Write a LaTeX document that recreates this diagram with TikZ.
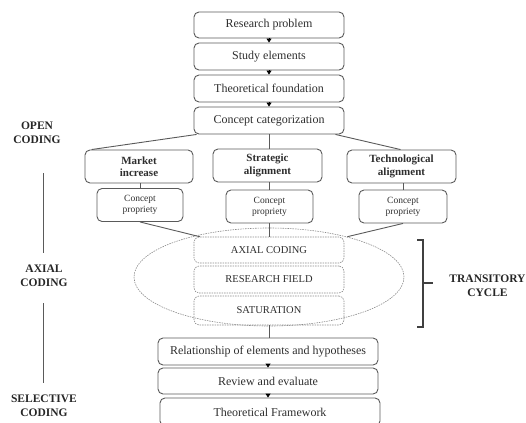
\documentclass[tikz,border=0pt]{standalone}
\usepackage{fontspec}
\setmainfont{Liberation Serif}
\usetikzlibrary{arrows.meta,calc,shapes.geometric}
\definecolor{bord}{HTML}{5A5A5A}
\definecolor{txt}{HTML}{2E2E2E}
\tikzset{
  mainbox/.style={draw=bord, line width=0.9pt, rounded corners=5pt, minimum width=150pt, minimum height=26pt, inner sep=1pt, text=txt, font=\fontsize{12}{13}\selectfont},
  catbox/.style={draw=bord, line width=0.9pt, rounded corners=5pt, minimum width=108pt, minimum height=33pt, inner sep=1pt, align=center, text=txt, font=\fontsize{11}{12.5}\selectfont\bfseries},
  propbox/.style={draw=bord, line width=0.9pt, rounded corners=5pt, minimum width=86pt, minimum height=33pt, inner sep=1pt, align=center, text=txt, font=\fontsize{9.5}{11}\selectfont},
  cycbox/.style={draw=bord!70, dashed, dash pattern=on 1.5pt off 1pt, line width=0.6pt, rounded corners=5pt, minimum width=150pt, minimum height=27pt, inner sep=1pt, text=txt, font=\fontsize{10.5}{12}\selectfont},
  phase/.style={align=center, text=black!85, font=\fontsize{11.5}{13.5}\selectfont\bfseries},
  conn/.style={draw=bord, line width=0.9pt},
  arr/.style={draw=black, line width=0.9pt, -{Triangle[length=4pt,width=5pt]}, shorten >=0pt},
}
\begin{document}
\begin{tikzpicture}[x=1pt,y=-1pt]
\useasboundingbox (0,0) rectangle (526,422);
% top chain
\node[mainbox] (rp) at (269,25) {Research problem};
\node[mainbox, minimum height=27pt] (se) at (269,56.5) {Study elements};
\node[mainbox, minimum height=27pt] (tf) at (269,88.5) {Theoretical foundation};
\node[mainbox, minimum height=27pt] (cc) at (269,120.5) {Concept categorization};
\draw[arr] (rp.south) -- (se.north);
\draw[arr] (se.south) -- (tf.north);
\draw[arr] (tf.south) -- (cc.north);
% categories
\node[catbox] (mi) at (139,166.5) {Market\\increase};
\node[catbox, minimum width=109pt] (sa) at (267.5,165.5) {Strategic\\alignment};
\node[catbox, minimum width=109pt] (ta) at (401.5,166.5) {Technological\\alignment};
\draw[conn] ($(cc.south west)+(3,0)$) -- ($(mi.north west)+(7,0)$);
\draw[conn] (cc.south) -- (cc.south |- sa.north);
\draw[conn] ($(cc.south east)+(-9,0)$) -- ($(ta.north)+(-1,0)$);
% properties
\node[propbox] (cp1) at (140,205) {Concept\\propriety};
\node[propbox, minimum width=87pt] (cp2) at (269.5,206.5) {Concept\\propriety};
\node[propbox, minimum width=88pt] (cp3) at (403,206.5) {Concept\\propriety};
\draw[conn] (mi.south -| cp1.north) -- (cp1.north);
\draw[conn] (sa.south -| cp2.north) -- (cp2.north);
\draw[conn] (ta.south -| cp3.north) -- (cp3.north);
% cycle
\node[draw=bord!70, dashed, dash pattern=on 1.5pt off 1pt, line width=0.6pt, ellipse, minimum width=270pt, minimum height=98pt, inner sep=0pt] (ell) at (269,277) {};
\node[cycbox, minimum height=26pt] (ac) at (269,250) {AXIAL CODING};
\node[cycbox] (rf) at (269,279.5) {RESEARCH FIELD};
\node[cycbox, minimum height=29pt] (sat) at (269,310.5) {SATURATION};
\draw[conn] (cp1.south) -- ($(ac.north west)+(6,0)$);
\draw[conn] (cp2.south) -- (cp2.south |- ac.north);
\draw[conn] (cp3.south) -- ($(ac.north east)+(3,0)$);
% bottom chain
\node[mainbox, minimum width=220pt, minimum height=27pt] (rel) at (268,351.5) {Relationship of elements and hypotheses};
\node[mainbox, minimum width=220pt] (rev) at (268,381) {Review and evaluate};
\node[mainbox, minimum width=220pt, minimum height=28pt] (tfw) at (270,412) {Theoretical Framework};
\draw[conn] (sat.south) -- (sat.south |- rel.north);
\draw[arr] (rev.north |- rel.south) -- (rev.north);
\draw[arr] (rev.south) -- (rev.south |- tfw.north);
% phases
\node[phase] (open) at (37,132.5) {OPEN\\CODING};
\node[phase] (axial) at (44,276) {AXIAL\\CODING};
\node[phase] (sel) at (44,405.5) {SELECTIVE\\CODING};
\coordinate (l1a) at (43,173);
\coordinate (l1b) at (43,253);
\coordinate (l2a) at (43,303);
\coordinate (l2b) at (43,383);
\draw[conn, line width=1pt] (l1a) -- (l1b);
\draw[conn, line width=1pt] (l2a) -- (l2b);
% bracket
\coordinate (b1) at (417,240);
\coordinate (b2) at (423,240);
\coordinate (b3) at (423,327);
\coordinate (b4) at (417,327);
\coordinate (bm) at (423,283);
\coordinate (bt) at (433,283);
\draw[conn, line width=1.1pt, draw=black!75] (b1) -- (b2) -- (b3) -- (b4);
\draw[conn, line width=1.1pt, draw=black!75] (bm) -- (bt);
\node[phase] (trans) at (487.5,285.5) {TRANSITORY\\CYCLE};
\end{tikzpicture}
\end{document}
